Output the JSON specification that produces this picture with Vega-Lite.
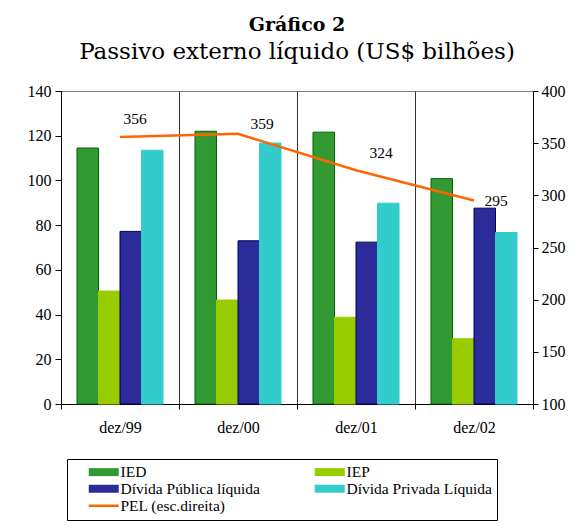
{
  "$schema": "https://vega.github.io/schema/vega-lite/v6.json",
  "width": 472,
  "height": 313,
  "autosize": {"type": "none"},
  "padding": {"left": 61, "top": 91, "right": 44, "bottom": 123},
  "background": "white",
  "title": {
    "text": "Gráfico 2",
    "subtitle": "Passivo externo líquido (US$ bilhões)",
    "font": "DejaVu Serif",
    "fontSize": 19,
    "fontWeight": "bold",
    "color": "black",
    "subtitleFont": "DejaVu Serif",
    "subtitleFontSize": 23,
    "subtitleColor": "black",
    "anchor": "middle",
    "offset": 19,
    "subtitlePadding": 6
  },
  "datasets": {
    "bars": [
      {"period": "dez/99", "series": "IED", "value": 114.5},
      {"period": "dez/99", "series": "IEP", "value": 50.5},
      {"period": "dez/99", "series": "Dívida Pública líquida", "value": 77.2},
      {"period": "dez/99", "series": "Dívida Privada Líquida", "value": 113.5},
      {"period": "dez/00", "series": "IED", "value": 122.0},
      {"period": "dez/00", "series": "IEP", "value": 46.5},
      {"period": "dez/00", "series": "Dívida Pública líquida", "value": 73.0},
      {"period": "dez/00", "series": "Dívida Privada Líquida", "value": 116.7},
      {"period": "dez/01", "series": "IED", "value": 121.6},
      {"period": "dez/01", "series": "IEP", "value": 38.8},
      {"period": "dez/01", "series": "Dívida Pública líquida", "value": 72.4},
      {"period": "dez/01", "series": "Dívida Privada Líquida", "value": 89.8},
      {"period": "dez/02", "series": "IED", "value": 100.8},
      {"period": "dez/02", "series": "IEP", "value": 29.2},
      {"period": "dez/02", "series": "Dívida Pública líquida", "value": 87.6},
      {"period": "dez/02", "series": "Dívida Privada Líquida", "value": 76.7}
    ],
    "pel": [
      {"period": "dez/99", "pel": 356},
      {"period": "dez/00", "pel": 359},
      {"period": "dez/01", "pel": 324},
      {"period": "dez/02", "pel": 295}
    ]
  },
  "layer": [
    {
      "data": {"name": "bars"},
      "mark": {"type": "bar", "strokeWidth": 1},
      "encoding": {
        "x": {
          "field": "period", "type": "nominal", "sort": null,
          "scale": {"paddingInner": 0, "paddingOuter": 0},
          "axis": {"title": null, "labelAngle": 0, "tickBand": "extent", "grid": true, "gridColor": "#333333", "gridWidth": 1, "tickSize": 5, "labelPadding": 10}
        },
        "xOffset": {
          "field": "series", "type": "nominal",
          "sort": ["IED", "IEP", "Dívida Pública líquida", "Dívida Privada Líquida"],
          "scale": {"paddingInner": 0, "paddingOuter": 0.744}
        },
        "y": {
          "field": "value", "type": "quantitative",
          "scale": {"domain": [0, 140], "nice": false},
          "axis": {"title": null, "values": [0, 20, 40, 60, 80, 100, 120, 140], "grid": false, "tickSize": 6, "labelPadding": 4}
        },
        "color": {
          "field": "series", "type": "nominal",
          "scale": {
            "domain": ["IED", "IEP", "Dívida Pública líquida", "Dívida Privada Líquida", "PEL (esc.direita)"],
            "range": ["#339933", "#99cc00", "#2b2b99", "#33cccc", "#ff6600"]
          },
          "legend": {
            "orient": "none", "legendX": 6, "legendY": 368, "columns": 2, "direction": "horizontal",
            "title": null, "strokeColor": "black", "padding": 5,
            "symbolSize": 100, "symbolOffset": 14, "labelOffset": 19,
            "columnPadding": 32, "rowPadding": 0, "gridAlign": "all",
            "labelFont": "Liberation Serif", "labelFontSize": 15.5, "labelColor": "black",
            "symbolStrokeWidth": 0,
            "encode": {
              "symbols": {
                "update": {
                  "shape": {"signal": "datum.value === 'PEL (esc.direita)' ? 'M-1,-0.25H5V0.25H-1Z' : 'M-1,-0.8H5V0.8H-1Z'"},
                  "fill": {"scale": "color", "field": "value"},
                  "strokeWidth": {"value": 0}
                }
              }
            }
          }
        },
        "stroke": {
          "field": "series", "type": "nominal",
          "scale": {
            "domain": ["IED", "IEP", "Dívida Pública líquida", "Dívida Privada Líquida"],
            "range": ["#006600", "#99cc00", "#000066", "#33cccc"]
          },
          "legend": null
        }
      }
    },
    {
      "data": {"name": "pel"},
      "encoding": {
        "x": {
          "field": "period", "type": "nominal", "sort": null,
          "axis": {"title": null, "labelAngle": 0, "tickBand": "extent", "grid": true, "gridColor": "#333333", "gridWidth": 1, "tickSize": 5, "labelPadding": 10}
        },
        "y": {
          "field": "pel", "type": "quantitative",
          "scale": {"domain": [100, 400], "nice": false},
          "axis": {"orient": "right", "title": null, "values": [100, 150, 200, 250, 300, 350, 400], "grid": false, "tickSize": 5, "labelPadding": 3}
        }
      },
      "layer": [
        {
          "mark": {"type": "line", "strokeWidth": 2.5},
          "encoding": {"color": {"datum": "PEL (esc.direita)"}}
        },
        {
          "transform": [{"filter": "datum.period === 'dez/99'"}],
          "mark": {"type": "text", "dx": 15, "dy": -18, "font": "Liberation Serif", "fontSize": 15.5, "color": "black", "baseline": "middle", "align": "center"},
          "encoding": {"text": {"field": "pel", "type": "quantitative"}}
        },
        {
          "transform": [{"filter": "datum.period === 'dez/00'"}],
          "mark": {"type": "text", "dx": 24, "dy": -10, "font": "Liberation Serif", "fontSize": 15.5, "color": "black", "baseline": "middle", "align": "center"},
          "encoding": {"text": {"field": "pel", "type": "quantitative"}}
        },
        {
          "transform": [{"filter": "datum.period === 'dez/01'"}],
          "mark": {"type": "text", "dx": 25, "dy": -17, "font": "Liberation Serif", "fontSize": 15.5, "color": "black", "baseline": "middle", "align": "center"},
          "encoding": {"text": {"field": "pel", "type": "quantitative"}}
        },
        {
          "transform": [{"filter": "datum.period === 'dez/02'"}],
          "mark": {"type": "text", "dx": 22, "dy": 0, "font": "Liberation Serif", "fontSize": 15.5, "color": "black", "baseline": "middle", "align": "center"},
          "encoding": {"text": {"field": "pel", "type": "quantitative"}}
        }
      ]
    }
  ],
  "resolve": {"scale": {"y": "independent"}},
  "config": {
    "view": {"stroke": "#808080"},
    "axis": {
      "labelFont": "Liberation Serif", "labelFontSize": 16, "labelColor": "black",
      "domainColor": "black", "tickColor": "black", "domainWidth": 1, "tickWidth": 1
    }
  }
}
